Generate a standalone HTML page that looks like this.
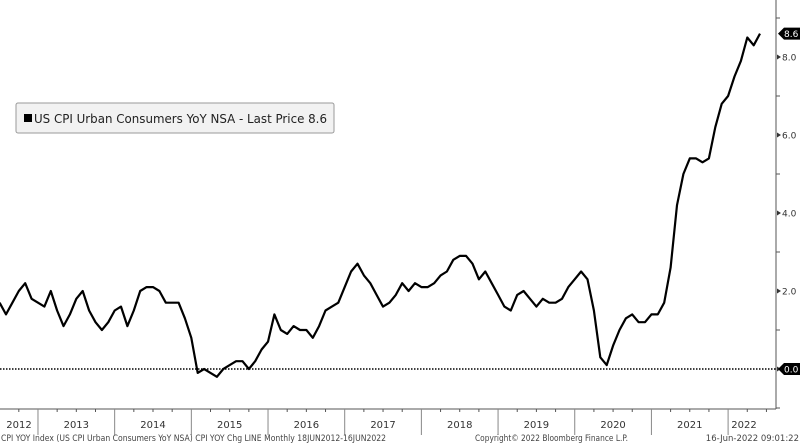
<!DOCTYPE html>
<html><head><meta charset="utf-8"><style>
body{margin:0;background:#fff;width:800px;height:444px;overflow:hidden;font-family:"DejaVu Sans","Liberation Sans",sans-serif}
svg{display:block}
</style></head><body>
<svg id="chart" width="800" height="444" xmlns="http://www.w3.org/2000/svg"></svg>
<script>
const startYear = 2012, startMonth = 5; // June 2012
const cpiValues = [1.7,1.4,1.7,2.0,2.2,1.8,1.7,
1.6,2.0,1.5,1.1,1.4,1.8,2.0,1.5,1.2,1.0,1.2,1.5,
1.6,1.1,1.5,2.0,2.1,2.1,2.0,1.7,1.7,1.7,1.3,0.8,
-0.1,0.0,-0.1,-0.2,0.0,0.1,0.2,0.2,0.0,0.2,0.5,0.7,
1.4,1.0,0.9,1.1,1.0,1.0,0.8,1.1,1.5,1.6,1.7,2.1,
2.5,2.7,2.4,2.2,1.9,1.6,1.7,1.9,2.2,2.0,2.2,2.1,
2.1,2.2,2.4,2.5,2.8,2.9,2.9,2.7,2.3,2.5,2.2,1.9,
1.6,1.5,1.9,2.0,1.8,1.6,1.8,1.7,1.7,1.8,2.1,2.3,
2.5,2.3,1.5,0.3,0.1,0.6,1.0,1.3,1.4,1.2,1.2,1.4,
1.4,1.7,2.6,4.2,5.0,5.4,5.4,5.3,5.4,6.2,6.8,7.0,
7.5,7.9,8.5,8.3,8.6];
const yTicks = [0,2,4,6,8];
const yTickLabels = ["0.0","2.0","4.0","6.0","8.0"];
const yearLabels = [2012,2013,2014,2015,2016,2017,2018,2019,2020,2021,2022];

const svg = document.getElementById('chart');
const NS = 'http://www.w3.org/2000/svg';
const X0 = -38.7, PXM = 6.39; // x of Jan 2012, px per month
const xOf = m => X0 + PXM * m;              // m months since Jan 2012
const yOf = v => 369 - 39 * v;
const AXR = 776, AXB = 409;
function mk(tag, attrs, parent){const e=document.createElementNS(NS,tag);for(const k in attrs)e.setAttribute(k,attrs[k]);(parent||svg).appendChild(e);return e;}

// zero line
let z = mk('line',{x1:0,x2:AXR,y1:yOf(0),y2:yOf(0),stroke:'#000','stroke-width':1.5,'stroke-dasharray':'1.5,1.5'});



// axes
let ra = mk('line',{x1:AXR,x2:AXR,y1:0,y2:AXB,stroke:'#555','stroke-width':1});


let ba = mk('line',{x1:0,x2:AXR,y1:AXB,y2:AXB,stroke:'#555','stroke-width':1});



// y minor ticks
for(let v=-1; v<=9; v+=2){
  const t = mk('line',{x1:AXR,x2:AXR+4,y1:yOf(v),y2:yOf(v),stroke:'#555'});
  
  
}
yTicks.forEach((v,i)=>{
  const t = mk('polygon',{points:`${AXR+1},${yOf(v)-2.5} ${AXR+5},${yOf(v)} ${AXR+1},${yOf(v)+2.5}`,fill:'#333'});
  
  
  if(v===0) return;
  const l = mk('text',{x:AXR+6,y:yOf(v)+3.5,'font-size':9,fill:'#333'});
  l.textContent = yTickLabels[i];
  
  
});

// tags
function tag(v,text,name){
  const y = yOf(v);
  const p = mk('polygon',{points:`${AXR+2},${y} ${AXR+8},${y-6} ${800},${y-6} ${800},${y+6} ${AXR+8},${y+6}`,fill:'#000'});
  
  
  const t = mk('text',{x:AXR+8,y:y+3.5,'font-size':9,fill:'#fff'});
  t.textContent = text;
  
  
}
tag(0,'0.0','zero');
tag(cpiValues[cpiValues.length-1],cpiValues[cpiValues.length-1].toFixed(1),'last-price');

// x ticks and labels
yearLabels.forEach((yr,i)=>{
  const m0 = i*12;
  const xs = xOf(m0), xe = Math.min(xOf(m0+12), AXR);
  if(i>0){
    const s = mk('line',{x1:xs,x2:xs,y1:AXB,y2:435,stroke:'#888'});
    
    
  }
  for(let q=1;q<4;q++){
    const xq = xOf(m0+q*3);
    if(xq<0||xq>AXR) continue;
    const t = mk('line',{x1:xq,x2:xq,y1:AXB,y2:AXB+3,stroke:'#555'});
    
    
  }
  const cx = (Math.max(xs,0)+xe)/2;
  const l = mk('text',{x:yr===2012?19:(yr===2022?744:cx),y:428,'font-size':10,fill:'#333','text-anchor':'middle'});
  l.textContent = yr;
  
  
});

// series (plotted at month end)
const pts = cpiValues.map((v,i)=>`${xOf(startMonth+i+1).toFixed(1)},${yOf(v).toFixed(1)}`).join(' ');
const line = mk('polyline',{points:pts,fill:'none',stroke:'#000','stroke-width':2.2,'stroke-linejoin':'round'});



// legend
const lg = mk('g',{});


mk('rect',{x:16,y:103,width:318,height:30,rx:2,fill:'#f2f2f2',stroke:'#999'},lg);
mk('rect',{x:24,y:114,width:8,height:8,fill:'#000'},lg);
const lt = mk('text',{x:34,y:123,'font-size':12.5,fill:'#222',textLength:293,lengthAdjust:'spacingAndGlyphs'},lg);
lt.textContent = 'US CPI Urban Consumers YoY NSA - Last Price 8.6';



// footer
const f1 = mk('text',{x:1,y:441,'font-size':8.5,fill:'#444',textLength:385,lengthAdjust:'spacingAndGlyphs'});
f1.textContent = 'CPI YOY Index (US CPI Urban Consumers YoY NSA) CPI YOY Chg LINE  Monthly 18JUN2012-16JUN2022';


const f2 = mk('text',{x:475,y:441,'font-size':8.5,fill:'#444',textLength:153,lengthAdjust:'spacingAndGlyphs'});
f2.textContent = 'Copyright© 2022 Bloomberg Finance L.P.';


const f3 = mk('text',{x:799,y:441,'font-size':8.5,fill:'#444','text-anchor':'end'});
f3.textContent = '16-Jun-2022 09:01:22';


</script>
</body></html>
